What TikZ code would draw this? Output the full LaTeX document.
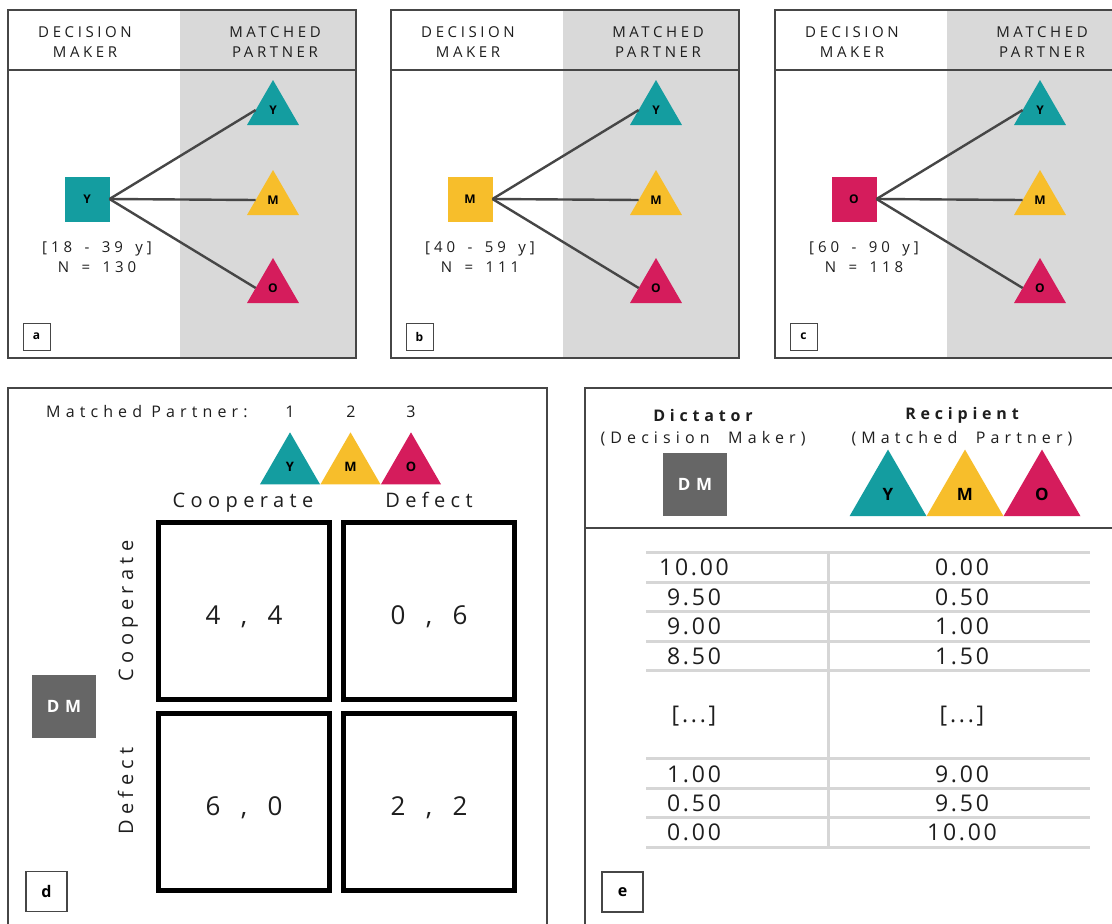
\documentclass[tikz,border=0pt]{standalone}
\usepackage{fontspec}
\setmainfont{Open Sans}
\usetikzlibrary{shapes.geometric}
\definecolor{cteal}{RGB}{20,157,160}
\definecolor{cyellow}{RGB}{247,190,43}
\definecolor{ccrimson}{RGB}{213,28,92}
\definecolor{bggray}{RGB}{217,217,217}
\definecolor{dmgray}{RGB}{102,102,102}
\definecolor{framegray}{RGB}{70,70,70}
\definecolor{tabgray}{RGB}{214,214,214}
\definecolor{txtgray}{RGB}{30,30,30}
\newcommand\lsfont[3]{\fontsize{#1}{#2}\selectfont\addfontfeature{LetterSpace=#3}}
\newcommand\widespace[1]{\spaceskip=#1\fontdimen2\font\relax}
\tikzset{
  frameline/.style={draw=framegray, line width=1.4pt},
  headline/.style={draw=framegray, line width=2pt},
  hdrtxt/.style={align=center, text=txtgray, font={\lsfont{15}{20}{24}}, inner sep=0pt},
  agetxt/.style={align=center, text=txtgray, font={\lsfont{15}{20}{26}\widespace{1.6}}, inner sep=0pt},
  agesq/.style={rectangle, minimum size=45pt, inner sep=0pt, outer sep=0pt, font={\bfseries\fontsize{12}{14}\selectfont}},
  agetri/.style={regular polygon, regular polygon sides=3, minimum size=60pt, inner sep=0pt, outer sep=0pt, font={\bfseries\fontsize{12}{14}\selectfont}},
  link/.style={draw=framegray, line width=2.4pt},
  smalllbl/.style={draw=framegray, line width=1pt, minimum size=27pt, inner sep=0pt, font={\bfseries\fontsize{12}{13}\selectfont}},
  biglbl/.style={draw=framegray, line width=1.2pt, minimum width=41pt, minimum height=40pt, inner sep=0pt, font={\bfseries\fontsize{16}{17}\selectfont}},
  dtxt/.style={text=txtgray, font={\lsfont{16}{20}{32}}, inner sep=0pt},
  coltxt/.style={text=txtgray, font={\lsfont{20}{24}{27}}, inner sep=0pt, anchor=base},
  dtri/.style={regular polygon, regular polygon sides=3, minimum size=69.3pt, inner sep=0pt, outer sep=0pt, font={\bfseries\fontsize{13}{14}\selectfont}},
  etri/.style={regular polygon, regular polygon sides=3, minimum size=88.9pt, inner sep=0pt, outer sep=0pt, font={\bfseries\fontsize{17}{18}\selectfont}},
  cell/.style={draw=black, line width=5pt, minimum width=171pt, minimum height=177pt, inner sep=0pt, text height=26pt, text depth=0pt, text=txtgray, font={\lsfont{26}{28}{28}\widespace{1.45}}},
  dmbox/.style={fill=dmgray, minimum width=64pt, minimum height=63pt, inner sep=0pt, text=white, font={\bfseries\lsfont{17}{18}{34}}},
  ehead/.style={text=txtgray, font={\bfseries\lsfont{16}{20}{30}}, inner sep=0pt},
  esub/.style={text=txtgray, font={\lsfont{16}{20}{32}\widespace{2}}, inner sep=0pt},
  tabline/.style={draw=tabgray, line width=3pt},
  tabtxt/.style={text=txtgray, font={\lsfont{23}{26}{12}}, inner sep=0pt}
}
\newcommand\agepanel[7]{%
\begin{scope}[shift={(#1,0)}]
\fill[bggray] (172,10) rectangle (348,358);
\draw[frameline] (0,10) rectangle (348,358);
\draw[headline] (0,70) -- (348,70);
\node[hdrtxt] (#2dmh) at (77,42) {DECISION\\MAKER};
\node[hdrtxt] (#2mph) at (267,42) {MATCHED\\PARTNER};
\node[agesq, fill=#3] (#2sq) at (79,199) {#4};
\node[agetxt] (#2age) at (89,257) {[#5 y]\\N = #6};
\node[agetri, fill=cteal] (#2Y) at (265,110) {Y};
\node[agetri, fill=cyellow] (#2M) at (265,200) {M};
\node[agetri, fill=ccrimson] (#2O) at (265,288) {O};
\draw[link] (#2sq.east) -- (#2Y.west);
\draw[link] (#2sq.east) -- (#2M.west);
\draw[link] (#2sq.east) -- (#2O.west);
\node[smalllbl] (#2lbl) at (28.5,336.5) {#7};
\end{scope}}
\begin{document}
\begin{tikzpicture}[x=1pt,y=-1pt]
\useasboundingbox (0,0) rectangle (1112,924);
\clip (0,0) rectangle (1112,924);
\fill[white] (0,0) rectangle (1112,924);
\agepanel{8}{a}{cteal}{Y}{18 - 39}{130}{a}
\agepanel{391}{b}{cyellow}{M}{40 - 59}{111}{b}
\agepanel{775}{c}{ccrimson}{O}{60 - 90}{118}{c}
% panel d
\draw[frameline, line width=1.2pt] (8,388) rectangle (547,940);
\node[dtxt, anchor=west] (mp) at (46,412) {Matched Partner:};
\node[dtxt] (n1) at (290,412) {1};
\node[dtxt] (n2) at (351,412) {2};
\node[dtxt] (n3) at (411,412) {3};
\node[dtri, fill=cteal] (dY) at (290,467) {Y};
\node[dtri, fill=cyellow] (dM) at (350.5,467) {M};
\node[dtri, fill=ccrimson] (dO) at (411,467) {O};
\node[coltxt] (hc) at (243,507) {Cooperate};
\node[coltxt] (hd) at (429,507) {Defect};
\node[coltxt, rotate=90] (rc) at (133,611) {Cooperate};
\node[coltxt, rotate=90] (rd) at (133,791) {Defect};
\node[cell] (c11) at (244,611) {4 , 4};
\node[cell] (c12) at (429,611) {0 , 6};
\node[cell] (c21) at (244,802) {6 , 0};
\node[cell] (c22) at (429,802) {2 , 2};
\node[dmbox] (ddm) at (64,706.5) {DM};
\node[biglbl] (dlbl) at (46.5,891.5) {d};
% panel e
\draw[frameline, line width=1.2pt] (585,388) rectangle (1130,940);
\draw[headline] (585,528) -- (1130,528);
\node[ehead] (edict) at (703,415) {Dictator};
\node[esub] (edm) at (703,439) {(Decision Maker)};
\node[dmbox] (edmbox) at (695,484) {DM};
\node[ehead] (erec) at (962,415) {Recipient};
\node[esub] (emp) at (962,439) {(Matched Partner)};
\node[etri, fill=cteal] (eY) at (888,494) {Y};
\node[etri, fill=cyellow] (eM) at (965,494) {M};
\node[etri, fill=ccrimson] (eO) at (1042,494) {O};
\foreach \yy in {552,582,611,641,670,758,788,817,847}
  \draw[tabline] (646,\yy) -- (1090,\yy);
\draw[tabline] (828,552) -- (828,847);
\foreach \yy/\l/\r in {567/10.00/0.00, 597/9.50/0.50, 626/9.00/1.00, 656/8.50/1.50, 716/{[...]}/{[...]}, 774/1.00/9.00, 803/0.50/9.50, 832/0.00/10.00}{
  \node[tabtxt] at (694,\yy) {\l};
  \node[tabtxt] at (962,\yy) {\r};
}
\node[biglbl] (elbl) at (622.5,892) {e};
\end{tikzpicture}
\end{document}
